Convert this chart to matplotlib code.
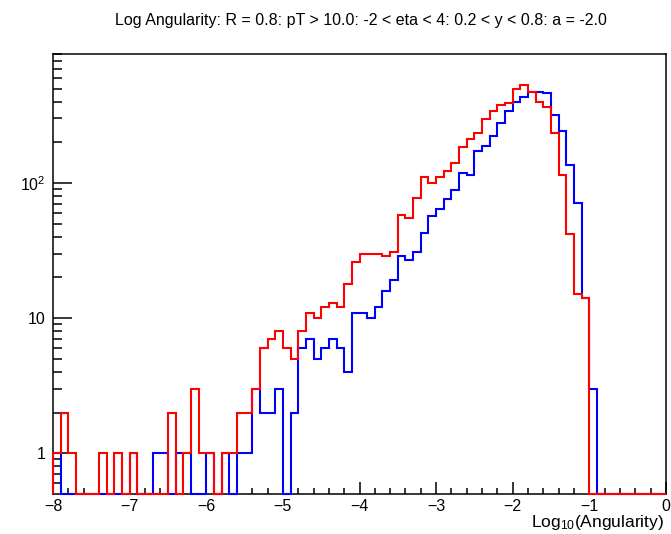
import numpy as np
import matplotlib
matplotlib.use("Agg")
import matplotlib.pyplot as plt
from matplotlib.ticker import FixedLocator, FixedFormatter, NullFormatter

plt.rcParams["font.family"] = ["Liberation Sans", "DejaVu Sans"]
plt.rcParams["mathtext.fontset"] = "custom"
plt.rcParams["mathtext.rm"] = "Liberation Sans"
plt.rcParams["mathtext.it"] = "Liberation Sans:italic"

# Histogram binning: 80 bins of width 0.1 on [-8, 0]
x_lo, x_hi, n_bins = -8.0, 0.0, 80
edges = np.linspace(x_lo, x_hi, n_bins + 1)

# Bin contents (entries per bin), lowest bin first
counts_blue = [
    1, 0, 0, 0, 0, 0, 0, 0, 0, 0,
    1, 0, 0, 1, 1, 0, 1, 1, 0, 0,
    1, 0, 1, 0, 1, 1, 3, 2, 2, 3,
    0, 2, 6, 7, 5, 6, 7, 6, 4, 11,
    11, 10, 12, 16, 19, 29, 27, 31, 43, 57,
    64, 76, 88, 119, 115, 173, 189, 224, 277, 338,
    400, 431, 474, 474, 461, 319, 243, 137, 71, 14,
    3, 0, 0, 0, 0, 0, 0, 0, 0, 0,
]
counts_red = [
    1, 2, 1, 0, 0, 0, 1, 0, 1, 0,
    1, 0, 0, 0, 0, 2, 0, 1, 3, 1,
    1, 0, 1, 1, 2, 2, 3, 6, 7, 8,
    6, 5, 8, 11, 10, 12, 13, 12, 18, 26,
    30, 30, 30, 29, 31, 58, 55, 77, 111, 100,
    111, 123, 141, 185, 211, 234, 297, 338, 378, 389,
    494, 531, 474, 400, 367, 236, 115, 42, 15, 14,
    0, 0, 0, 0, 0, 0, 0, 0, 0, 0,
]

title = "Log Angularity: R = 0.8: pT > 10.0: -2 < eta < 4: 0.2 < y < 0.8: a = -2.0"
x_title = r"Log$_{10}$(Angularity)"
x_major = [-8, -7, -6, -5, -4, -3, -2, -1, 0]
y_major = [1, 10, 100]
y_major_labels = ["1", "10", r"10$^{2}$"]
y_lo, y_hi = 0.5, 900.0

fig = plt.figure(figsize=(6.71, 5.34), dpi=100)
ax = fig.add_axes([53 / 671, 40 / 534, 613 / 671, 440 / 534])
ax.set_yscale("log")

for counts, col in ((counts_blue, "#0000ff"), (counts_red, "#ff0000")):
    vals = np.clip(np.asarray(counts, dtype=float), y_lo, None)
    ax.stairs(vals, edges, baseline=y_lo, fill=False, color=col,
              linewidth=1.5, clip_on=False, zorder=3)

ax.set_xlim(x_lo, x_hi)
ax.set_ylim(y_lo, y_hi)

# x axis
ax.xaxis.set_major_locator(FixedLocator(x_major))
ax.set_xticklabels([("\u2212%d" % -v) if v < 0 else "%d" % v for v in x_major])
ax.xaxis.set_minor_locator(FixedLocator(np.arange(-8, 0.001, 0.2)))

# y axis
ax.yaxis.set_major_locator(FixedLocator(y_major))
ax.yaxis.set_major_formatter(FixedFormatter(y_major_labels))
minor_y = [0.6, 0.7, 0.8, 0.9] + [m * d for d in (1, 10, 100) for m in range(2, 10)]
ax.yaxis.set_minor_locator(FixedLocator(minor_y))
ax.yaxis.set_minor_formatter(NullFormatter())

ax.tick_params(which="both", direction="in", top=False, right=False,
               width=1.1, colors="black", labelsize=11.5)
ax.tick_params(axis="x", which="major", length=9, pad=3.5)
ax.tick_params(axis="x", which="minor", length=4.5)
ax.tick_params(axis="y", which="major", length=13.5, pad=5.5)
ax.tick_params(axis="y", which="minor", length=6.7)
for sp in ax.spines.values():
    sp.set_linewidth(1.1)

fig.text(361 / 671, 1 - 20 / 534, title, ha="center", va="center", fontsize=11.5)
fig.text(664 / 671, 1 - 523 / 534, x_title, ha="right", va="center", fontsize=12.5)

fig.savefig("out.png", dpi=100)
